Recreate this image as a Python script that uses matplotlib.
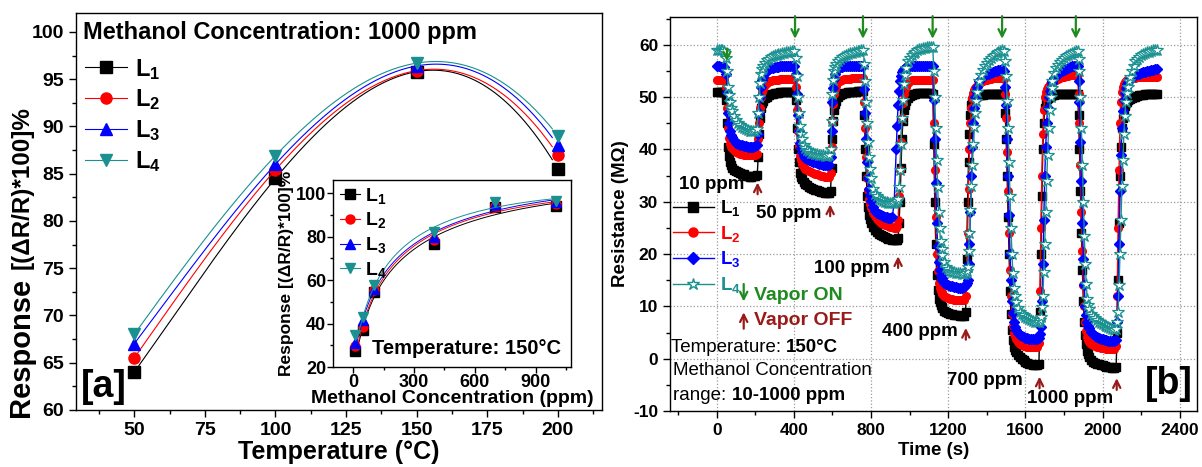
import numpy as np
import matplotlib
matplotlib.use('Agg')
import matplotlib.pyplot as plt
from matplotlib.lines import Line2D
from matplotlib.ticker import MultipleLocator

plt.rcParams['font.family'] = ['Liberation Sans', 'DejaVu Sans']
plt.rcParams['font.weight'] = 'bold'
plt.rcParams['axes.labelweight'] = 'bold'
plt.rcParams['axes.unicode_minus'] = False
plt.rcParams['mathtext.fontset'] = 'custom'
plt.rcParams['mathtext.rm'] = 'Liberation Sans'
plt.rcParams['mathtext.bf'] = 'Liberation Sans:bold'

# ---- panel a: response vs temperature (1000 ppm) ----
temp_c = [50, 100, 150, 200]
resp_temp_L1 = [64.0, 84.5, 95.8, 85.5]
resp_temp_L2 = [65.5, 85.4, 95.9, 87.0]
resp_temp_L3 = [67.0, 86.0, 96.4, 88.0]
resp_temp_L4 = [68.0, 86.9, 96.7, 89.0]

# ---- inset: response vs concentration (150 C) ----
conc_ppm = [10, 50, 100, 400, 700, 1000]
resp_conc_L1 = [27.2, 37.2, 54.3, 76.5, 93.4, 94.2]
resp_conc_L2 = [29.7, 38.5, 55.4, 78.2, 94.2, 95.0]
resp_conc_L3 = [31.2, 41.8, 55.8, 79.7, 94.9, 95.7]
resp_conc_L4 = [34.6, 43.1, 57.7, 82.3, 95.8, 96.5]

# ---- panel b: resistance transients, sampled every 10 s ----
time_s = np.arange(0, 2290, 10)
res_L1 = [
    51.0, 51.0, 50.9, 51.0, 50.9, 49.5, 40.5, 37.5, 36.5, 36.0, 35.8, 35.6, 35.5, 35.3, 35.2, 35.0, 35.0,
    34.8, 34.7, 35.0, 35.0, 35.1, 43.0, 48.0, 49.3, 49.8, 50.1, 50.3, 50.5, 50.6, 50.7, 50.8, 50.8, 50.9,
    51.0, 51.0, 51.0, 51.0, 51.0, 51.0, 51.0,
    49.5, 40.0, 35.5, 34.3, 33.8, 33.4, 33.1, 32.9, 32.7, 32.5, 32.3, 32.2, 32.0, 31.9, 31.8, 31.7, 31.6,
    31.6, 32.0, 42.0, 47.5, 49.3, 50.0, 50.4, 50.6, 50.7, 50.8, 50.9, 51.0, 51.0, 51.0, 51.0, 51.1, 51.1, 51.1,
    51.1, 40.0, 31.0, 27.5, 26.0, 25.2, 24.6, 24.2, 23.9, 23.6, 23.4, 23.2, 23.0, 22.9, 22.8, 22.7, 22.6,
    22.6, 23.0, 30.0, 42.0, 47.5, 49.2, 49.8, 50.2, 50.4, 50.5, 50.6, 50.7, 50.7, 50.8, 50.8, 50.8, 50.8,
    50.8, 50.8,
    50.5, 30.0, 16.0, 11.5, 10.2, 9.6, 9.2, 8.9, 8.7, 8.6, 8.5, 8.4, 8.3, 8.3, 8.2, 8.2, 8.2, 9.0, 30.0,
    43.0, 48.5, 49.6, 50.0, 50.2, 50.3, 50.4, 50.4, 50.5, 50.5, 50.5, 50.5, 50.5, 50.5, 50.5, 50.5, 50.5, 50.5,
    50.5, 42.0, 27.0, 13.0, 5.5, 2.3, 1.2, 0.7, 0.3, 0.0, -0.3, -0.6, -0.8, -1.0, -1.1, -1.2, -1.3, -1.3,
    -1.0, 20.0, 40.0, 48.0, 49.6, 50.0, 50.2, 50.3, 50.4, 50.5, 50.5, 50.5, 50.5, 50.5, 50.5, 50.5, 50.5,
    50.5, 50.5, 50.5,
    50.5, 40.0, 24.0, 11.0, 4.5, 1.5, 0.3, -0.3, -0.6, -0.8, -1.0, -1.1, -1.2, -1.3, -1.4, -1.5, -1.5,
    -1.6, -1.7, -1.8, -1.5, 15.0, 35.0, 44.0, 47.5, 48.8, 49.4, 49.7, 49.9, 50.0, 50.1, 50.2, 50.3, 50.4,
    50.4, 50.5, 50.5, 50.5, 50.6, 50.6, 50.6, 50.6,
]
res_L2 = [
    53.3, 53.3, 53.3, 53.3, 53.3, 52.0, 44.0, 41.0, 40.2, 39.8, 39.5, 39.3, 39.2, 39.1, 39.0, 39.0, 39.0,
    38.9, 38.9, 39.0, 39.0, 39.2, 45.0, 50.0, 51.5, 52.3, 52.7, 53.0, 53.1, 53.2, 53.3, 53.3, 53.3, 53.4,
    53.4, 53.4, 53.4, 53.4, 53.4, 53.4, 53.4,
    52.0, 43.5, 38.8, 37.3, 36.7, 36.3, 36.0, 35.8, 35.6, 35.4, 35.3, 35.2, 35.1, 35.0, 34.9, 34.8, 34.8,
    34.8, 35.5, 45.5, 50.5, 52.2, 52.8, 53.1, 53.3, 53.4, 53.5, 53.5, 53.5, 53.6, 53.6, 53.6, 53.6, 53.6, 53.6,
    53.6, 44.0, 34.5, 30.5, 28.8, 27.8, 27.2, 26.7, 26.3, 26.0, 25.8, 25.6, 25.5, 25.3, 25.2, 25.1, 25.0,
    25.0, 26.5, 36.0, 46.0, 50.5, 52.0, 52.6, 53.0, 53.2, 53.3, 53.3, 53.3, 53.3, 53.3, 53.3, 53.3, 53.3,
    53.3, 53.3,
    53.3, 36.0, 20.0, 14.5, 13.0, 12.4, 12.0, 11.8, 11.6, 11.5, 11.4, 11.3, 11.3, 11.2, 11.2, 11.2, 11.2,
    12.0, 24.0, 40.0, 48.0, 50.8, 51.7, 52.2, 52.5, 52.8, 53.0, 53.2, 53.3, 53.4, 53.5, 53.6, 53.6, 53.7,
    53.7, 53.7, 53.7,
    53.5, 46.0, 32.0, 17.0, 8.5, 5.0, 3.8, 3.2, 2.9, 2.7, 2.5, 2.4, 2.3, 2.3, 2.2, 2.2, 2.2, 2.2, 3.0,
    25.0, 43.0, 50.0, 51.5, 52.2, 52.6, 52.9, 53.1, 53.3, 53.5, 53.6, 53.8, 53.9, 54.0, 54.1, 54.2, 54.3,
    54.3, 54.4,
    54.4, 45.0, 28.0, 14.0, 7.0, 4.2, 3.2, 2.8, 2.6, 2.4, 2.3, 2.2, 2.1, 2.0, 2.0, 1.9, 1.9, 1.8, 1.8,
    1.8, 2.5, 25.0, 45.0, 51.0, 52.5, 53.0, 53.3, 53.5, 53.6, 53.7, 53.7, 53.8, 53.8, 53.8, 53.8, 53.9,
    53.9, 53.9, 53.9, 53.9, 53.9, 53.9,
]
res_L3 = [
    55.9, 55.9, 55.8, 55.8, 55.8, 54.5, 47.0, 43.5, 42.3, 41.7, 41.3, 41.0, 40.9, 40.8, 40.7, 40.6, 40.5,
    40.5, 40.5, 40.5, 40.6, 40.8, 47.0, 52.0, 53.8, 54.6, 55.0, 55.3, 55.5, 55.6, 55.7, 55.8, 55.8, 55.9,
    55.9, 55.9, 56.0, 56.0, 56.0, 56.0, 56.0,
    54.5, 46.5, 41.3, 39.5, 38.8, 38.4, 38.1, 37.9, 37.7, 37.6, 37.5, 37.4, 37.3, 37.2, 37.1, 37.0, 37.0,
    37.0, 38.5, 49.0, 53.5, 55.0, 55.5, 55.7, 55.8, 55.9, 56.0, 56.0, 56.0, 56.0, 56.0, 56.0, 56.0, 56.0, 56.0,
    56.0, 47.0, 37.5, 32.5, 30.2, 29.0, 28.3, 27.9, 27.6, 27.4, 27.2, 27.1, 27.0, 26.9, 26.9, 27.0, 30.0,
    40.0, 48.5, 53.0, 54.8, 55.4, 55.7, 55.9, 56.0, 56.0, 56.0, 56.0, 56.0, 56.0, 56.0, 56.0, 56.0, 56.0,
    56.0, 56.0,
    56.0, 42.0, 26.0, 18.5, 16.0, 15.0, 14.5, 14.2, 14.0, 13.9, 13.8, 13.7, 13.7, 13.6, 13.6, 13.6, 13.7,
    14.0, 15.0, 22.0, 35.0, 45.0, 50.0, 52.0, 53.0, 53.5, 53.9, 54.2, 54.4, 54.5, 54.6, 54.8, 54.9, 55.0,
    55.1, 55.2, 55.3,
    55.0, 48.5, 35.0, 20.0, 11.0, 7.0, 5.5, 4.9, 4.5, 4.3, 4.1, 4.0, 3.9, 3.8, 3.8, 3.7, 3.7, 3.8, 4.0,
    6.0, 18.0, 35.0, 45.0, 50.0, 52.0, 53.0, 53.6, 54.0, 54.4, 54.7, 55.0, 55.2, 55.4, 55.6, 55.8, 55.9,
    56.0, 56.0,
    56.0, 49.0, 34.0, 19.0, 10.0, 7.0, 5.8, 5.1, 4.7, 4.4, 4.2, 4.0, 3.8, 3.7, 3.6, 3.5, 3.4, 3.4, 3.3,
    3.3, 3.5, 12.0, 32.0, 44.0, 49.5, 51.8, 52.9, 53.5, 53.9, 54.1, 54.3, 54.4, 54.5, 54.6, 54.7, 54.8,
    54.9, 55.0, 55.1, 55.2, 55.3, 55.3,
]
res_L4 = [
    59.0, 59.0, 58.9, 58.9, 58.8, 57.5, 52.0, 49.0, 47.3, 46.3, 45.6, 45.0, 44.6, 44.3, 44.0, 43.8, 43.7,
    43.6, 43.5, 43.5, 43.6, 43.8, 50.0, 54.5, 56.0, 56.6, 57.0, 57.3, 57.6, 57.8, 58.0, 58.1, 58.2, 58.3,
    58.4, 58.5, 58.6, 58.7, 58.7, 58.8, 58.8,
    57.5, 50.0, 44.5, 42.0, 40.8, 40.2, 39.8, 39.6, 39.4, 39.3, 39.2, 39.1, 39.0, 38.9, 38.9, 38.8, 38.8,
    38.9, 40.0, 50.5, 55.0, 56.3, 56.9, 57.3, 57.6, 57.9, 58.1, 58.3, 58.4, 58.5, 58.6, 58.7, 58.8, 58.8, 58.9,
    59.0, 53.0, 45.0, 38.5, 34.5, 32.5, 31.5, 31.0, 30.6, 30.3, 30.1, 30.0, 29.9, 29.8, 29.8, 29.8, 29.8,
    29.9, 30.5, 36.0, 46.0, 52.5, 55.5, 56.8, 57.5, 58.0, 58.4, 58.7, 58.9, 59.1, 59.2, 59.3, 59.4, 59.5,
    59.5, 59.5,
    59.5, 50.0, 38.0, 28.0, 22.5, 19.8, 18.4, 17.6, 17.1, 16.8, 16.6, 16.5, 16.4, 16.3, 16.3, 16.2, 16.2,
    16.3, 17.5, 24.0, 33.0, 41.0, 47.0, 51.0, 53.0, 54.3, 55.2, 55.9, 56.5, 57.0, 57.4, 57.8, 58.1, 58.4,
    58.6, 58.8, 58.9,
    58.8, 54.0, 44.0, 31.0, 20.0, 13.5, 10.8, 9.6, 9.0, 8.6, 8.3, 8.0, 7.8, 7.6, 7.4, 7.2, 7.1, 7.0, 7.0,
    8.0, 12.0, 22.0, 34.0, 44.0, 50.0, 53.0, 54.6, 55.5, 56.2, 56.7, 57.1, 57.5, 57.8, 58.1, 58.3, 58.5,
    58.7, 58.8,
    58.8, 55.0, 44.0, 30.0, 18.0, 11.5, 9.5, 8.6, 8.1, 7.7, 7.4, 7.1, 6.8, 6.6, 6.4, 6.2, 6.0, 5.8, 5.6,
    5.5, 5.6, 9.0, 20.0, 33.0, 43.0, 49.0, 52.0, 53.8, 55.0, 56.0, 56.8, 57.3, 57.7, 58.0, 58.3, 58.5,
    58.6, 58.7, 58.8, 58.9, 59.0, 59.0,
]

# extra readings on the fast switching edges (5 s between the 10 s points)
edge_time_s = [
    55, 65, 75, 215, 225, 235,
    415, 425, 435, 595, 605, 615,
    765, 775, 785, 795, 935, 945, 955, 965, 975,
    1125, 1135, 1145, 1155, 1165, 1295, 1305, 1315, 1325, 1335, 1345,
    1495, 1505, 1515, 1525, 1535, 1545, 1675, 1685, 1695, 1705, 1715, 1725, 1735,
    1875, 1885, 1895, 1905, 1915, 1925, 2075, 2085, 2095, 2105, 2115, 2125, 2135,
]
edge_L1 = [
    45.0, 38.8, 37.0, 38.5, 46.0, 48.8,
    44.0, 37.5, 34.8, 36.5, 45.5, 48.6,
    46.5, 35.0, 29.0, 26.7, 22.7, 26.0, 36.5, 45.5, 48.5,
    41.0, 22.0, 13.2, 10.8, 9.9, 19.0, 37.5, 46.5, 49.2, 49.8, 50.1,
    47.0, 35.0, 20.0, 8.5, 3.5, 1.7, 9.0, 31.0, 45.0, 49.0, 49.8, 50.1, 50.3,
    46.5, 32.0, 17.0, 7.0, 2.8, 0.8, 5.0, 26.0, 40.5, 46.0, 48.3, 49.1, 49.6,
]
edge_L2 = [
    48.0, 42.2, 40.5, 42.0, 48.0, 51.0,
    47.5, 40.7, 37.9, 40.5, 48.7, 51.6,
    49.0, 38.5, 32.2, 29.5, 25.4, 31.0, 41.5, 48.8, 51.5,
    45.0, 27.0, 16.8, 13.6, 12.7, 17.0, 32.5, 45.0, 49.8, 51.3, 52.0,
    50.5, 39.5, 24.0, 12.0, 6.3, 4.3, 13.0, 35.0, 47.5, 51.0, 52.0, 52.4, 52.8,
    50.5, 37.0, 20.5, 10.0, 5.3, 3.6, 12.0, 36.0, 49.0, 52.0, 52.8, 53.2, 53.4,
]
edge_L3 = [
    51.0, 45.0, 42.8, 43.0, 50.0, 53.2,
    50.5, 43.5, 40.2, 43.5, 51.8, 54.5,
    51.5, 42.0, 34.5, 31.2, 44.5, 51.2, 54.1, 55.2, 55.6,
    49.5, 33.5, 21.5, 17.0, 15.4, 14.4, 18.0, 28.0, 40.5, 48.0, 51.2,
    52.0, 42.0, 27.5, 15.0, 8.7, 6.1, 4.8, 11.0, 26.5, 40.5, 48.0, 51.2, 52.6,
    53.0, 41.5, 26.0, 14.0, 8.3, 6.3, 7.0, 22.0, 39.0, 47.3, 50.8, 52.4, 53.3,
]
edge_L4 = [
    55.0, 50.3, 48.0, 47.0, 52.6, 55.4,
    54.0, 47.0, 43.0, 45.5, 53.2, 55.8,
    56.3, 49.0, 41.5, 36.3, 30.1, 32.8, 41.0, 49.5, 54.3,
    55.0, 44.0, 32.8, 25.0, 21.0, 16.8, 20.5, 28.5, 37.0, 44.2, 49.2,
    56.8, 49.3, 37.5, 25.0, 16.3, 12.0, 7.3, 9.8, 16.5, 28.0, 39.0, 47.5, 51.7,
    57.3, 50.0, 37.0, 23.5, 14.3, 10.3, 7.0, 14.0, 26.5, 38.0, 46.3, 50.7, 53.0,
]

vapor_on_s = [53, 406, 758, 1119, 1479, 1861]
vapor_off_s = [212, 588, 940, 1291, 1673, 2073]
conc_labels = ['10 ppm', '50 ppm', '100 ppm', '400 ppm', '700 ppm', '1000 ppm']

labels = [r'$\mathbf{L_1}$', r'$\mathbf{L_2}$', r'$\mathbf{L_3}$', r'$\mathbf{L_4}$']
colors = ['black', '#ff0000', '#0000ff', '#1a9090']
green = '#1f8a1f'
dark_red = '#9a1a1a'

W, H = 1202, 467
fig = plt.figure(figsize=(W / 100, H / 100), dpi=100)


def px_axes(left, right, top, bottom):
    return fig.add_axes([left / W, 1 - bottom / H, (right - left) / W, (bottom - top) / H])


def style_ticks(ax, xt, yt, size, major=5, minor=3):
    ax.set_xticks(xt)
    ax.set_xticklabels([f'{v:g}' for v in xt], fontweight='bold', fontsize=size)
    ax.set_yticks(yt)
    ax.set_yticklabels([f'{v:g}' for v in yt], fontweight='bold', fontsize=size)
    ax.tick_params(which='major', direction='out', length=major, width=1)
    ax.tick_params(which='minor', direction='out', length=minor, width=1)
    for sp in ax.spines.values():
        sp.set_linewidth(1)


# ---------------- panel a ----------------
ax_a = px_axes(76, 602, 13, 410)
markers_a = ['s', 'o', '^', 'v']
series_a = [resp_temp_L1, resp_temp_L2, resp_temp_L3, resp_temp_L4]
xs = np.linspace(50, 198, 200)
for vals, c, m in zip(series_a, colors, markers_a):
    coef = np.polyfit(temp_c, vals, 3)
    ax_a.plot(xs, np.polyval(coef, xs), color=c, lw=0.8)
    ax_a.plot(temp_c, vals, ls='none', marker=m, color=c, ms=8)

ax_a.set_xlim(29.4, 215.6)
ax_a.set_ylim(60, 102)
style_ticks(ax_a, [50, 75, 100, 125, 150, 175, 200], list(range(60, 101, 5)), 14)
ax_a.xaxis.set_minor_locator(MultipleLocator(12.5))
ax_a.yaxis.set_minor_locator(MultipleLocator(2.5))
ax_a.set_xlabel('Temperature (°C)', fontsize=18, labelpad=1)
# y label: larger "Response" followed by the bracket part
fig.text(21 / W, 1 - 347 / H, 'Response', rotation=90, fontsize=21, ha='center', va='center')
fig.text(22 / W, 1 - 188 / H, '[(ΔR/R)*100]%', rotation=90, fontsize=17.5, ha='center', va='center')
ax_a.text(0.013, 0.95, 'Methanol Concentration: 1000 ppm', transform=ax_a.transAxes,
          fontsize=17, ha='left', va='center')
ax_a.text(0.052, 0.058, '[a]', transform=ax_a.transAxes, fontsize=27, ha='center', va='center')

handles_a = [Line2D([], [], color=c, marker=m, lw=0.8, ms=8) for c, m in zip(colors, markers_a)]
ax_a.legend(handles_a, labels, loc='upper left', bbox_to_anchor=(0.017, 0.89), frameon=False,
            fontsize=17, handlelength=1.8, handletextpad=0.3, labelspacing=0.25,
            borderaxespad=0, borderpad=0)

# ---------------- inset ----------------
ax_in = px_axes(333, 571, 180, 367)
xs_c = np.linspace(10, 1000, 300)
series_in = [resp_conc_L1, resp_conc_L2, resp_conc_L3, resp_conc_L4]
for vals, c, m in zip(series_in, colors, markers_a):
    coef = np.polyfit(np.log(conc_ppm), vals, 3)
    ax_in.plot(xs_c, np.polyval(coef, np.log(xs_c)), color=c, lw=0.7)
    ax_in.plot(conc_ppm, vals, ls='none', marker=m, color=c, ms=6.5)
ax_in.set_xlim(-100, 1075)
ax_in.set_ylim(20, 106)
style_ticks(ax_in, [0, 300, 600, 900], [20, 40, 60, 80, 100], 13, major=4, minor=2)
ax_in.xaxis.set_minor_locator(MultipleLocator(150))
ax_in.yaxis.set_minor_locator(MultipleLocator(10))
ax_in.tick_params(pad=1)
ax_in.set_xlabel('Methanol Concentration (ppm)', fontsize=14, labelpad=-1)
ax_in.set_ylabel('Response [(ΔR/R)*100]%', fontsize=12.5, labelpad=1)
ax_in.text(0.164, 0.10, 'Temperature: 150°C', transform=ax_in.transAxes, fontsize=14.5,
           ha='left', va='center')
handles_in = [Line2D([], [], color=c, marker=m, lw=0.8, ms=6.5) for c, m in zip(colors, markers_a)]
ax_in.legend(handles_in, labels, loc='upper left', bbox_to_anchor=(0.03, 0.97), frameon=False,
             fontsize=14, handlelength=1.0, handletextpad=0.3, labelspacing=0.25,
             borderaxespad=0, borderpad=0)

# ---------------- panel b ----------------
ax_b = px_axes(670, 1197, 17, 411)
series_b = [(res_L1, edge_L1), (res_L2, edge_L2), (res_L3, edge_L3), (res_L4, edge_L4)]
markers_b = ['s', 'o', 'D', '*']
t_all = np.concatenate([time_s, edge_time_s])
order = np.argsort(t_all, kind='stable')
for (vals, edge), c, m in zip(series_b, colors, markers_b):
    v_all = np.concatenate([vals, edge])[order]
    if m == '*':
        ax_b.plot(t_all[order], v_all, color=c, marker=m, ms=9, lw=1, mfc='white', mec=c, mew=0.9)
    elif m == 'D':
        ax_b.plot(t_all[order], v_all, color=c, marker=m, ms=5, lw=1)
    else:
        ax_b.plot(t_all[order], v_all, color=c, marker=m, ms=5.5, lw=1)

ax_b.set_xlim(-242, 2489)
ax_b.set_ylim(-10, 65.3)
style_ticks(ax_b, list(range(0, 2401, 400)), list(range(-10, 61, 10)), 12.5)
ax_b.xaxis.set_minor_locator(MultipleLocator(200))
ax_b.yaxis.set_minor_locator(MultipleLocator(5))
ax_b.grid(True, which='major', ls=':', color='#9a9a9a', lw=0.9)
ax_b.set_axisbelow(True)
ax_b.set_xlabel('Time (s)', fontsize=13.5, labelpad=3)
ax_b.set_ylabel('Resistance (MΩ)', fontsize=13.5, labelpad=3)

handles_b = []
for c, m in zip(colors, markers_b):
    if m == '*':
        handles_b.append(Line2D([], [], color=c, marker=m, ms=9, lw=1, mfc='white', mec=c))
    else:
        handles_b.append(Line2D([], [], color=c, marker=m, ms=6.5, lw=1))
leg_b = ax_b.legend(handles_b, labels, loc='upper left', bbox_to_anchor=(0.005, 0.54), frameon=False,
                    fontsize=13.5, handlelength=2.2, handletextpad=0.35, labelspacing=0.3,
                    borderaxespad=0, borderpad=0)
for txt, c in zip(leg_b.get_texts(), colors):
    txt.set_color(c)

arrow_kw = dict(arrowstyle='->', lw=1.6, mutation_scale=13)

# vapor on (green, pointing down)
for i, t in enumerate(vapor_on_s):
    tail, tip = (59.8, 56.3) if i == 0 else (66.0, 60.6)
    ax_b.annotate('', xy=(t, tip), xytext=(t, tail), annotation_clip=False,
                  arrowprops=dict(color=green, **arrow_kw))

# vapor off (red, pointing up) with concentration labels
off_tip = [34.2, 30.0, 20.1, 6.4, -2.9, -3.2]
label_xy = [(-26, 33.2), (374, 27.8), (701, 17.2), (1053, 5.1), (1390, -4.1), (1831, -7.6)]
for t, tip, lab, (lx, ly) in zip(vapor_off_s, off_tip, conc_labels, label_xy):
    ax_b.annotate('', xy=(t, tip), xytext=(t, tip - 3.3),
                  arrowprops=dict(color=dark_red, **arrow_kw))
    ax_b.text(lx, ly, lab, fontsize=13.5, ha='center', va='center')

ax_b.annotate('', xy=(140, 10.4), xytext=(140, 14.8), arrowprops=dict(color=green, **arrow_kw))
ax_b.text(192, 12.1, 'Vapor ON', color=green, fontsize=14, ha='left', va='center')
ax_b.annotate('', xy=(140, 9.4), xytext=(140, 5.2), arrowprops=dict(color=dark_red, **arrow_kw))
ax_b.text(192, 7.3, 'Vapor OFF', color=dark_red, fontsize=14, ha='left', va='center')

t1 = ax_b.text(-238, 2.2, 'Temperature: ', fontsize=13.5, fontweight='normal', ha='left', va='center')
ax_b.annotate('150°C', xy=(1, 0.5), xycoords=t1, fontsize=13.5, ha='left', va='center')
ax_b.text(-224, -2.3, 'Methanol Concentration', fontsize=13.5, fontweight='normal',
          ha='left', va='center')
t2 = ax_b.text(-224, -7.0, 'range: ', fontsize=13.5, fontweight='normal', ha='left', va='center')
ax_b.annotate('10-1000 ppm', xy=(1, 0.5), xycoords=t2, fontsize=13.5, ha='left', va='center')
ax_b.text(2345, -4.8, '[b]', fontsize=27, ha='center', va='center')

fig.savefig('out.png', dpi=100)
